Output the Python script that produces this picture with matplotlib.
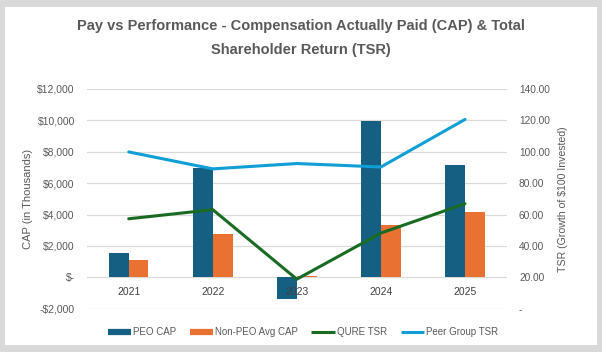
import numpy as np
import matplotlib.pyplot as plt
from matplotlib.lines import Line2D
from matplotlib.patches import Rectangle
from matplotlib.ticker import FuncFormatter, MultipleLocator

years = ['2021', '2022', '2023', '2024', '2025']
peo_cap = [1550, 6950, -1400, 9950, 7150]
non_peo_cap = [1080, 2780, 60, 3360, 4170]
qure_tsr = [57.3, 63.1, 18.8, 48.2, 66.9]
peer_tsr = [99.9, 89.1, 92.5, 90.3, 120.6]

C_PEO = '#156082'
C_NON = '#E97132'
C_QURE = '#196B24'
C_PEER = '#0F9ED5'
TXT = '#595959'
GRID = '#D9D9D9'
FONT = ['Liberation Sans', 'DejaVu Sans']

plt.rcParams['font.family'] = FONT

fig = plt.figure(figsize=(6.02, 3.52), dpi=100)
fig.patch.set_facecolor('#D9D9D9')
fig.patches.append(Rectangle((5 / 602, 7 / 352), 592 / 602, 338 / 352,
                             transform=fig.transFigure, facecolor='white',
                             edgecolor='none', zorder=-10))

ax = fig.add_axes([86.7 / 602, 1 - 308.7 / 352, (507 - 86.7) / 602, (308.7 - 89) / 352])
ax.patch.set_alpha(0)
ax2 = ax.twinx()
ax2.patch.set_alpha(0)

x = np.arange(len(years))
w = 0.235
ax.bar(x - w / 2, peo_cap, w, color=C_PEO, zorder=2)
ax.bar(x + w / 2, non_peo_cap, w, color=C_NON, zorder=2)
ax2.plot(x, qure_tsr, color=C_QURE, lw=2.2, solid_capstyle='round')
ax2.plot(x, peer_tsr, color=C_PEER, lw=2.2, solid_capstyle='round')

ax.set_xlim(-0.5, len(years) - 0.5)
ax.set_ylim(-2000, 12000)
ax2.set_ylim(0, 140)
ax.yaxis.set_major_locator(MultipleLocator(2000))
ax2.yaxis.set_major_locator(MultipleLocator(20))


def cap_fmt(v, pos):
    if v == 0:
        return '$-'
    if v < 0:
        return '-${:,.0f}'.format(-v)
    return '${:,.0f}'.format(v)


def tsr_fmt(v, pos):
    return '-' if v == 0 else '{:.2f}'.format(v)


ax.yaxis.set_major_formatter(FuncFormatter(cap_fmt))
ax2.yaxis.set_major_formatter(FuncFormatter(tsr_fmt))

ax.grid(axis='y', color=GRID, lw=0.9)
ax.set_axisbelow(True)
# category labels sit on the zero line, drawn over the bars
ax.xaxis.set_zorder(3)
for a in (ax, ax2):
    for s in a.spines.values():
        s.set_visible(False)
ax.spines['bottom'].set_position(('data', 0))

ax.set_xticks(x)
ax.set_xticklabels(years)
ax.tick_params(axis='x', length=0, pad=7, labelsize=7.5, labelcolor='#404040')
ax.tick_params(axis='y', length=0, pad=8.5, labelsize=7.5, labelcolor=TXT)
ax2.tick_params(axis='y', length=0, pad=8.6, labelsize=7.3, labelcolor=TXT)

ax.set_ylabel('CAP (in Thousands)', fontsize=8, color=TXT, labelpad=3)
ax2.set_ylabel('TSR (Growth of $100 Invested)', fontsize=7.6, color=TXT, labelpad=6)

fig.text(0.5, 1 - 38 / 352,
         'Pay vs Performance - Compensation Actually Paid (CAP) & Total\nShareholder Return (TSR)',
         ha='center', va='center', fontsize=10.5, fontweight='bold', color=TXT,
         linespacing=1.85)

handles = [
    Line2D([], [], color=C_PEO, lw=4.5, solid_capstyle='butt'),
    Line2D([], [], color=C_NON, lw=4.5, solid_capstyle='butt'),
    Line2D([], [], color=C_QURE, lw=2.2, solid_capstyle='butt'),
    Line2D([], [], color=C_PEER, lw=2.2, solid_capstyle='butt'),
]
labels = ['PEO CAP', 'Non-PEO Avg CAP', 'QURE TSR', 'Peer Group TSR']
leg = fig.legend(handles, labels, loc='center', bbox_to_anchor=(0.503, 1 - 332 / 352),
                 ncol=4, frameon=False, fontsize=7, handlelength=2.4,
                 handletextpad=0.2, columnspacing=1.4)
for t in leg.get_texts():
    t.set_color(TXT)

fig.savefig('out.png', dpi=100, facecolor=fig.get_facecolor())
